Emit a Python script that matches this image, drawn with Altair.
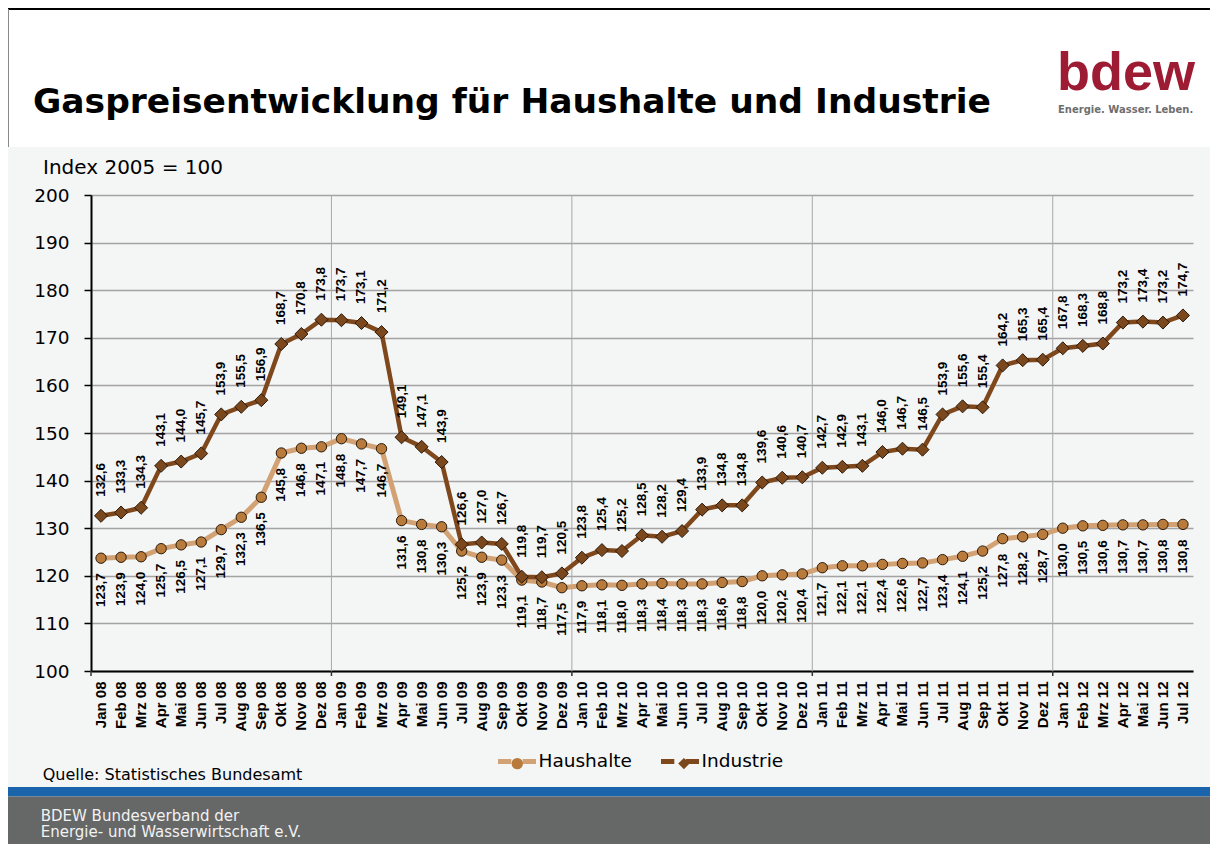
import altair as alt
import pandas as pd

MONTHS = [
    "Jan 08", "Feb 08", "Mrz 08", "Apr 08", "Mai 08", "Jun 08", "Jul 08", "Aug 08", "Sep 08", "Okt 08", "Nov 08", "Dez 08",
    "Jan 09", "Feb 09", "Mrz 09", "Apr 09", "Mai 09", "Jun 09", "Jul 09", "Aug 09", "Sep 09", "Okt 09", "Nov 09", "Dez 09",
    "Jan 10", "Feb 10", "Mrz 10", "Apr 10", "Mai 10", "Jun 10", "Jul 10", "Aug 10", "Sep 10", "Okt 10", "Nov 10", "Dez 10",
    "Jan 11", "Feb 11", "Mrz 11", "Apr 11", "Mai 11", "Jun 11", "Jul 11", "Aug 11", "Sep 11", "Okt 11", "Nov 11", "Dez 11",
    "Jan 12", "Feb 12", "Mrz 12", "Apr 12", "Mai 12", "Jun 12", "Jul 12",
]

HAUSHALTE = [
    123.7, 123.9, 124.0, 125.7, 126.5, 127.1, 129.7, 132.3, 136.5, 145.8, 146.8, 147.1,
    148.8, 147.7, 146.7, 131.6, 130.8, 130.3, 125.2, 123.9, 123.3, 119.1, 118.7, 117.5,
    117.9, 118.1, 118.0, 118.3, 118.4, 118.3, 118.3, 118.6, 118.8, 120.0, 120.2, 120.4,
    121.7, 122.1, 122.1, 122.4, 122.6, 122.7, 123.4, 124.1, 125.2, 127.8, 128.2, 128.7,
    130.0, 130.5, 130.6, 130.7, 130.7, 130.8, 130.8,
]

INDUSTRIE = [
    132.6, 133.3, 134.3, 143.1, 144.0, 145.7, 153.9, 155.5, 156.9, 168.7, 170.8, 173.8,
    173.7, 173.1, 171.2, 149.1, 147.1, 143.9, 126.6, 127.0, 126.7, 119.8, 119.7, 120.5,
    123.8, 125.4, 125.2, 128.5, 128.2, 129.4, 133.9, 134.8, 134.8, 139.6, 140.6, 140.7,
    142.7, 142.9, 143.1, 146.0, 146.7, 146.5, 153.9, 155.6, 155.4, 164.2, 165.3, 165.4,
    167.8, 168.3, 168.8, 173.2, 173.4, 173.2, 174.7,
]

SERIES = ["Haushalte", "Industrie"]
MARKER_KEYS = ["Haushalte ", "Industrie "]  # separate key set so the marker legend stays its own
Y_TICKS = [100, 110, 120, 130, 140, 150, 160, 170, 180, 190, 200]
YEAR_STARTS = ["Jan 08", "Jan 09", "Jan 10", "Jan 11", "Jan 12"]
YEAR_LINES = ["Jan 09", "Jan 10", "Jan 11", "Jan 12"]

TITLE = "Gaspreisentwicklung für Haushalte und Industrie"
Y_NOTE = "Index 2005 = 100"
SOURCE = "Quelle: Statistisches Bundesamt"
FOOTER_1 = "BDEW Bundesverband der"
FOOTER_2 = "Energie- und Wasserwirtschaft e.V."
LOGO = "bdew"
SLOGAN = "Energie. Wasser. Leben."

H_LINE, H_FILL = "#d2a274", "#b97b3b"
I_LINE, I_FILL = "#7e481c", "#7b471c"
MK_STROKE = "#2a1a0a"
BG = "#f4f5f5"

rows = []
for s, key, vals in zip(SERIES, MARKER_KEYS, [HAUSHALTE, INDUSTRIE]):
    for m, v in zip(MONTHS, vals):
        rows.append({"monat": m, "wert": v, "serie": s, "serie2": key,
                     "label": f"{v:.1f}".replace(".", ",")})
df = pd.DataFrame(rows)

W, H = 1102, 476
SVG_W, SVG_H = 1202, 836
PAD = {"left": 83, "top": 187, "right": SVG_W - 83 - W, "bottom": SVG_H - 187 - H}

xscale = alt.Scale(type="band", domain=MONTHS, paddingInner=0, paddingOuter=0)
yscale = alt.Scale(domain=[100, 200], nice=False, zero=False)

x_axis = alt.Axis(title=None, labelAngle=270, labelAlign="right", labelBaseline="middle",
                  labelFont="Liberation Sans", labelFontSize=15, labelFontWeight="bold",
                  labelColor="black", labelPadding=10, ticks=False, domainColor="black",
                  domainWidth=2, grid=False, labelOverlap=False)
y_axis = alt.Axis(title=None, values=Y_TICKS, labelFont="DejaVu Sans", labelFontSize=18.5,
                  labelColor="black", labelPadding=15, tickSize=7, tickColor="black",
                  tickWidth=1.5, domainColor="black", domainWidth=2, grid=True,
                  gridColor="#a3a3a3", gridWidth=1.5)

X = alt.X("monat:O", scale=xscale, sort=MONTHS, axis=x_axis)
Y = alt.Y("wert:Q", scale=yscale, axis=y_axis)

legend_lines = alt.Legend(title=None, orient="none", legendX=404.5, legendY=544.7,
                          direction="horizontal", symbolType="M-1,0L-0.3,0M0.3,0L1,0",
                          symbolSize=1444, symbolStrokeWidth=5, labelFont="DejaVu Sans",
                          labelFontSize=18.5, labelColor="black", labelOffset=0,
                          columnPadding=18, padding=0, symbolOpacity=1)
legend_points = alt.Legend(title=None, orient="none", legendX=419.8, legendY=561.7,
                           direction="horizontal", symbolSize=130,
                           symbolStrokeColor=MK_STROKE, symbolStrokeWidth=1,
                           labelExpr="''", labelFontSize=1, labelOffset=0,
                           columnPadding=149.6, padding=0, symbolOpacity=1)

color_enc = alt.Color("serie:N", scale=alt.Scale(domain=SERIES, range=[H_LINE, I_LINE]),
                      legend=legend_lines)
fill_enc = alt.Fill("serie2:N", scale=alt.Scale(domain=MARKER_KEYS, range=[H_FILL, I_FILL]),
                    legend=legend_points)
shape_enc = alt.Shape("serie2:N", scale=alt.Scale(domain=MARKER_KEYS, range=["circle", "diamond"]),
                      legend=legend_points)

base = alt.Chart(df)


def series_layers(name, width, size, align, dx):
    sub = base.transform_filter(alt.datum.serie == name)
    line = sub.mark_line(strokeWidth=width).encode(x=X, y=Y, color=color_enc)
    pts = sub.mark_point(filled=True, size=size, stroke=MK_STROKE, strokeWidth=1,
                         opacity=1).encode(x=X, y=Y, fill=fill_enc, shape=shape_enc)
    txt = sub.mark_text(angle=270, align=align, baseline="middle", dx=dx,
                        font="Liberation Sans", fontSize=13.5, fontWeight="bold",
                        color="black").encode(x=X, y=Y, text="label:N")
    return line, pts, txt


one = pd.DataFrame({"k": [0]})


def rect(x1, x2, y1, y2, color):
    return alt.Chart(one).mark_rect(color=color).encode(
        x=alt.value(x1), x2=alt.value(x2), y=alt.value(y1), y2=alt.value(y2))


def label(text, x, y, size, color="black", font="DejaVu Sans", weight="normal"):
    return alt.Chart(pd.DataFrame({"t": [text]})).mark_text(
        align="left", baseline="alphabetic", font=font, fontSize=size,
        fontWeight=weight, color=color).encode(x=alt.value(x), y=alt.value(y), text="t:N")


right = SVG_W - 83
deco = [
    rect(-83, right, -187, -48, "white"),
    alt.Chart(one).mark_rule(color="black", strokeWidth=2).encode(
        x=alt.value(-83), x2=alt.value(right), y=alt.value(-186)),
    alt.Chart(one).mark_rule(color="#8a8a8a", strokeWidth=1).encode(
        x=alt.value(-82.5), y=alt.value(-186), y2=alt.value(-48)),
    rect(-83, right, 592, 601.5, "#1a64ab"),
    rect(-83, right, 601.5, SVG_H - 187, "#666767"),
    label(TITLE, -58, -81.7, 34.5, weight="bold"),
    label(LOGO, 966, -105, 54, color="#9d1c33", font="Liberation Sans", weight="bold"),
    label(SLOGAN, 967, -81.7, 10, color="#6d6e70", weight="bold"),
    label(Y_NOTE, -48, -21, 20),
    label(SOURCE, -48.3, 585, 16),
    label(FOOTER_1, -50.3, 626, 15, color="#f2f2f2"),
    label(FOOTER_2, -50.3, 641.7, 15, color="#f2f2f2"),
]

XR = alt.X("m:O", scale=xscale, sort=MONTHS, bandPosition=0, axis=x_axis)
year_grid = alt.Chart(pd.DataFrame({"m": YEAR_LINES})).mark_rule(
    color="#a8a8a8", strokeWidth=1).encode(x=XR, y=alt.value(0), y2=alt.value(H))
year_ticks = alt.Chart(pd.DataFrame({"m": YEAR_STARTS})).mark_rule(
    color="#333333", strokeWidth=1.5).encode(x=XR, y=alt.value(H), y2=alt.value(H + 5))

lh, ph, th = series_layers("Haushalte", 5, 107, "right", -15)
li, pi, ti = series_layers("Industrie", 4.5, 170, "left", 19)

chart = alt.layer(
    *deco, year_grid, year_ticks, lh, ph, li, pi, th, ti
).properties(
    width=W, height=H, padding=PAD,
    autosize=alt.AutoSizeParams(type="none"), background=BG,
).configure_view(stroke=None)

chart.save("out.html", embed_options={"renderer": "svg", "actions": False})
